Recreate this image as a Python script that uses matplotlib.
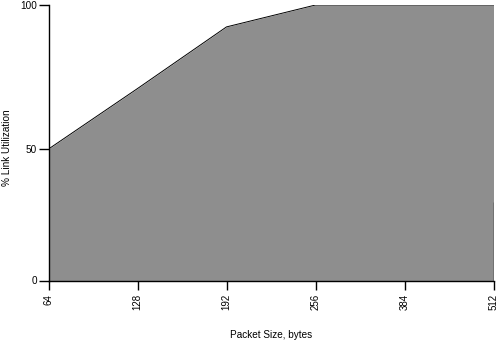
import numpy as np
import matplotlib
matplotlib.use("Agg")
import matplotlib.pyplot as plt

plt.rcParams["font.family"] = ["Liberation Sans", "DejaVu Sans"]

# data
packet_sizes = ["64", "128", "192", "256", "384", "512"]
utilization = [50, 71, 92.4, 100, 100, 100]
y_ticks = [0, 50, 100]

# the reference y axis is not quite linear: 0-50 and 50-100 use different spacing
y_knots = [0, 50, 100]
px_knots = [0, 131.4, 275.4]

def fwd(v):
    return np.interp(v, y_knots, px_knots)

def inv(v):
    return np.interp(v, px_knots, y_knots)

fig = plt.figure(figsize=(5, 3.43), dpi=100)
ax = fig.add_axes([48.5 / 500, 62.5 / 343, 445 / 500, 275.5 / 343])

x = np.arange(len(packet_sizes))
ax.fill_between(x, 0, utilization, color="#8e8e8e", linewidth=0)
ax.plot(x, utilization, color="black", linewidth=0.7)
# small dark mark on the right edge, as in the reference
ax.vlines(x[-1], 0, 30, color="black", linewidth=1.0)

ax.set_yscale("function", functions=(fwd, inv))
ax.set_xlim(x[0], x[-1])
ax.set_ylim(0, 100)

ax.set_xticks(x)
ax.set_xticklabels(packet_sizes, rotation=90, fontsize=7)
ax.set_yticks(y_ticks)
ax.set_yticklabels([str(t) for t in y_ticks], fontsize=7.2)
ax.tick_params(axis="x", direction="out", length=6.5, width=1, pad=3)
ax.tick_params(axis="y", direction="out", length=7.2, width=1, pad=1)
ax.yaxis.set_minor_locator(matplotlib.ticker.NullLocator())
for i, t in enumerate(ax.xaxis.get_major_ticks()):
    if packet_sizes[i] in ("128", "384"):
        t.tick1line.set_color("#b4b4b4")

for s in ("top", "right"):
    ax.spines[s].set_visible(False)
for s in ("left", "bottom"):
    ax.spines[s].set_linewidth(1)

ax.set_xlabel("Packet Size, bytes", fontsize=7.2)
ax.xaxis.set_label_coords(0.5, -0.198)
ax.xaxis.label.set_va("center")
ax.set_ylabel("% Link Utilization", fontsize=7.2)
ax.yaxis.set_label_coords(-0.0933, 0.481)
ax.yaxis.label.set_va("center")

fig.savefig("out.png", dpi=100)
